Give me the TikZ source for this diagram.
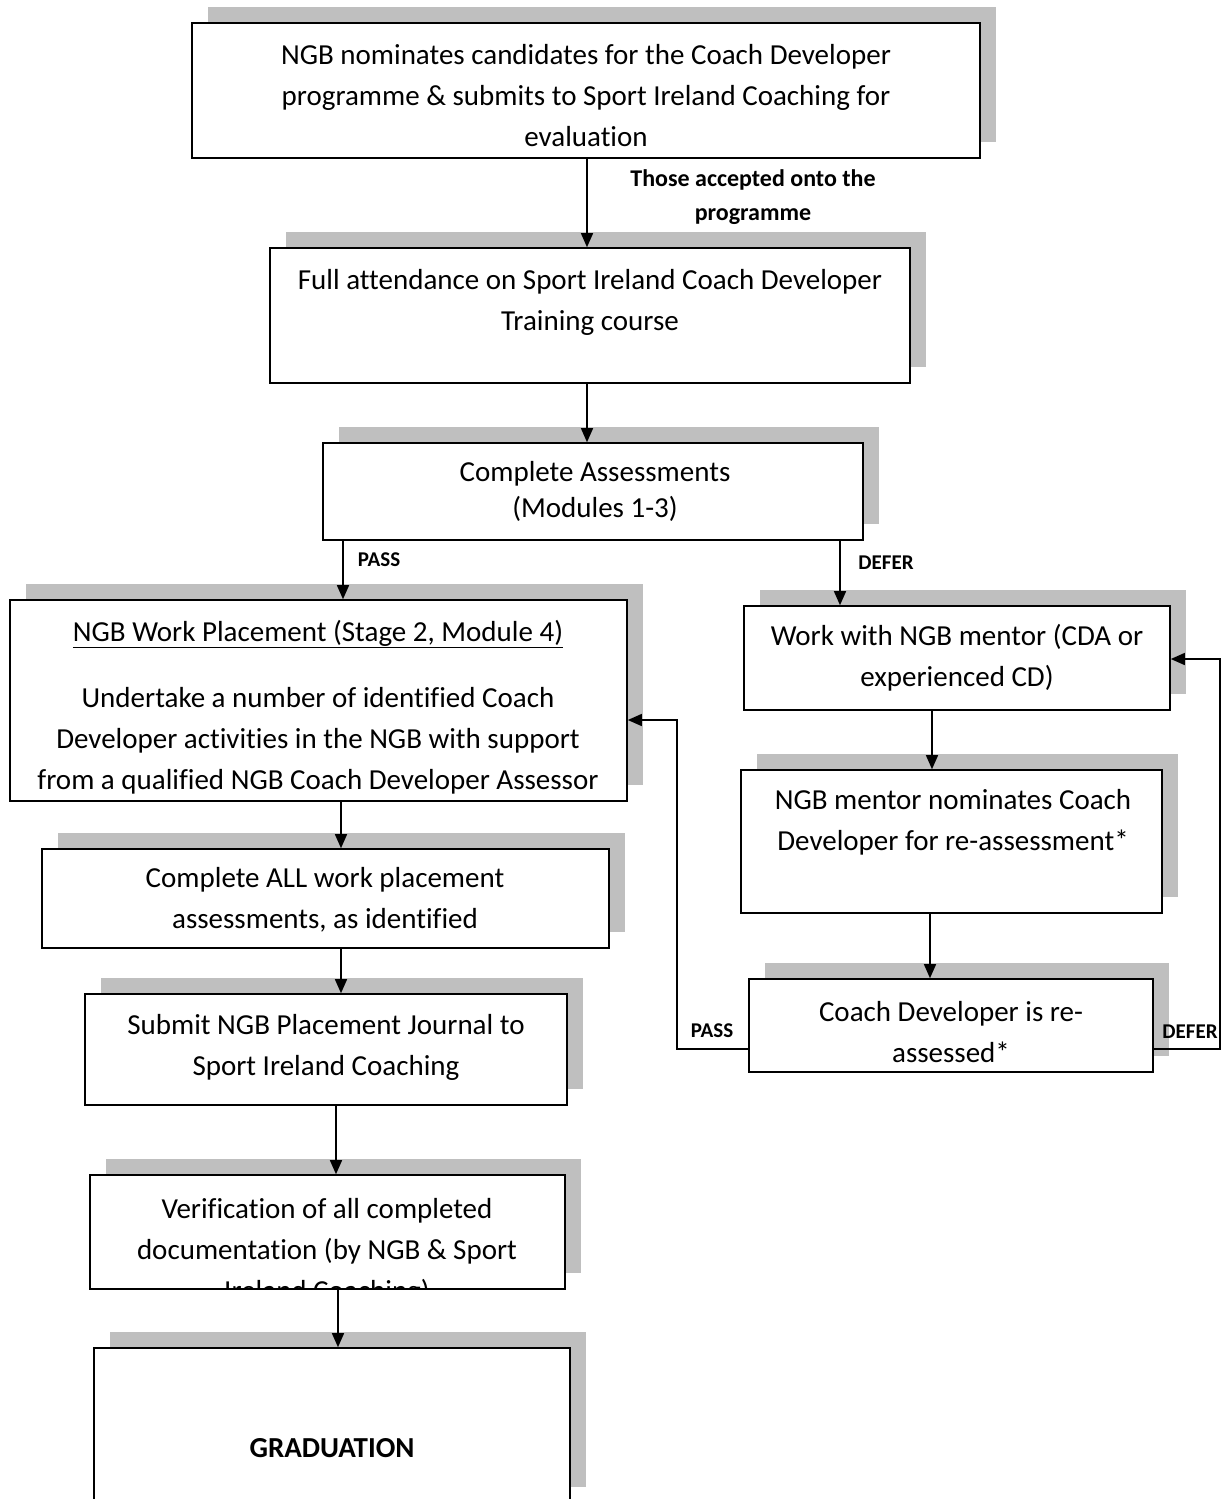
\documentclass[tikz,border=0pt]{standalone}
\usepackage{fontspec}
\setmainfont{Carlito}[Ligatures={NoCommon}]
\usetikzlibrary{arrows.meta,shadows}
\definecolor{shadowgray}{RGB}{191,191,191}
\begin{document}
\begin{tikzpicture}[x=1pt,y=-1pt,
  box/.style={draw=black, line width=1.6pt, fill=white, rectangle, inner sep=0pt,
    drop shadow={shadow xshift=16pt, shadow yshift=16pt, opacity=1, fill=shadowgray}},
  txt/.style={align=center, inner sep=0pt, yshift=-2pt, font=\fontsize{29}{41}\selectfont},
  txtsingle/.style={align=center, inner sep=0pt, yshift=-1pt, font=\fontsize{29}{36}\selectfont},
  lbl/.style={align=center, inner sep=0pt, font=\fontsize{24}{34}\selectfont\bfseries},
  smlbl/.style={inner sep=0pt, font=\fontsize{21}{26}\selectfont\bfseries},
  arr/.style={line width=1.4pt, -{Triangle[length=14pt,width=12pt]}}]
\useasboundingbox (0,0) rectangle (1228,1499);

% boxes
\node[box, minimum width=788pt, minimum height=135pt] (b1) at (586,90.5) {};
\node[box, minimum width=640pt, minimum height=135pt] (b2) at (590,315.5) {};
\node[box, minimum width=540pt, minimum height=97pt] (b3) at (593,491.5) {};
\node[box, minimum width=617pt, minimum height=201pt] (b4) at (318.5,700.5) {};
\node[box, minimum width=426pt, minimum height=104pt] (b5) at (957,658) {};
\node[box, minimum width=421pt, minimum height=143pt] (b6) at (951.5,841.5) {};
\node[box, minimum width=404pt, minimum height=93pt] (b7) at (951,1025.5) {};
\node[box, minimum width=567pt, minimum height=99pt] (b8) at (325.5,898.5) {};
\node[box, minimum width=482pt, minimum height=111pt] (b9) at (326,1049.5) {};
\node[box, minimum width=475pt, minimum height=114pt] (b10) at (327.5,1232) {};
\node[box, minimum width=476pt, minimum height=155pt] (b11) at (332,1425.5) {};

% texts
\node[txt] (t1) at (586,93.5) {NGB nominates candidates for the Coach Developer\\programme \& submits to Sport Ireland Coaching for\\evaluation};
\node[txt] (t2) at (590,300) {Full attendance on Sport Ireland Coach Developer\\Training course};
\node[txtsingle] (t3) at (595,490) {Complete Assessments\\(Modules 1-3)};
\node[txt] (t4a) at (318,632) {\underline{NGB Work Placement (Stage 2, Module 4)}};
\node[txt] (t4b) at (318,739) {Undertake a number of identified Coach\\Developer activities in the NGB with support\\from a qualified NGB Coach Developer Assessor};
\node[txt] (t5) at (957,655.5) {Work with NGB mentor (CDA or\\experienced CD)};
\node[txt] (t6) at (953,820.5) {NGB mentor nominates Coach\\Developer for re-assessment*};
\node[txt] (t7) at (951,1030.5) {Coach Developer is re-\\assessed*};
\node[txt] (t8) at (325,898) {Complete ALL work placement\\assessments, as identified};
\node[txt] (t9) at (326,1045.5) {Submit NGB Placement Journal to\\Sport Ireland Coaching};
\coordinate (cl) at (0,1287);
\begin{scope}
\clip (b10.north west) rectangle (b10.east |- cl);
\node[txt] (t10) at (327,1250) {Verification of all completed\\documentation (by NGB \& Sport\\Ireland Coaching)};
\end{scope}
\node[txt, font=\fontsize{29}{41}\selectfont\bfseries] (t11) at (332,1446) {GRADUATION};

% labels
\node[lbl] (l1) at (753,197) {Those accepted onto the\\programme};
\node[smlbl] (l2) at (379,560) {PASS};
\node[smlbl] (l3) at (886,563) {DEFER};
\node[smlbl] (l4) at (712,1031) {PASS};
\node[smlbl] (l5) at (1190,1032) {DEFER};

% connector x positions
\coordinate (xa) at (587,0);
\coordinate (xb) at (343,0);
\coordinate (xc) at (840,0);
\coordinate (xd) at (932,0);
\coordinate (xe) at (930,0);
\coordinate (xf) at (341,0);
\coordinate (xg) at (336,0);
\coordinate (xh) at (338,0);

\draw[arr] (xa |- b1.south) -- (xa |- b2.north);
\draw[arr] (xa |- b2.south) -- (xa |- b3.north);
\draw[arr] (xb |- b3.south) -- (xb |- b4.north);
\draw[arr] (xc |- b3.south) -- (xc |- b5.north);
\draw[arr] (xd |- b5.south) -- (xd |- b6.north);
\draw[arr] (xe |- b6.south) -- (xe |- b7.north);
\draw[arr] (xf |- b4.south) -- (xf |- b8.north);
\draw[arr] (xf |- b8.south) -- (xf |- b9.north);
\draw[arr] (xg |- b9.south) -- (xg |- b10.north);
\draw[arr] (xh |- b10.south) -- (xh |- b11.north);

% loops
\coordinate (p1) at (677,1049);
\coordinate (p2) at (677,720);
\draw[arr] (p1 -| b7.west) -- (p1) -- (p2) -- (p2 -| b4.east);
\coordinate (q1) at (1220,1049);
\coordinate (q2) at (1220,659);
\draw[arr] (q1 -| b7.east) -- (q1) -- (q2) -- (q2 -| b5.east);
\end{tikzpicture}
\end{document}
